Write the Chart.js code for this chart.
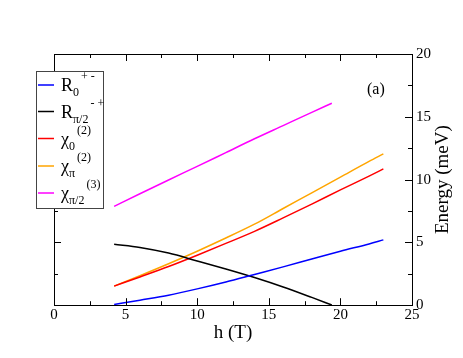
<!DOCTYPE html>
<html>
<head>
<meta charset="utf-8">
<script src="https://cdn.jsdelivr.net/npm/chart.js@4.4.1/dist/chart.umd.min.js"></script>
<style>
  html, body { margin:0; padding:0; background:#fff; }
  #wrap { width:463px; height:358px; }
</style>
</head>
<body>
<div id="wrap"><canvas id="c" width="463" height="358"></canvas></div>
<script>
// field values h (T) and energies (meV)
const hR0 = [4.2, 6, 8, 10, 12, 14, 16, 18, 20, 22, 23];
const eR0 = [0.05, 0.4, 0.8, 1.3, 1.85, 2.45, 3.05, 3.68, 4.3, 4.88, 5.2];
const hRpi2 = [4.2, 6, 8, 10, 12, 14, 16, 18, 19.4];
const eRpi2 = [4.85, 4.6, 4.15, 3.52, 2.88, 2.2, 1.45, 0.62, 0.02];
const hChi0 = [4.2, 6, 8, 10, 12, 14, 16, 18, 20, 22, 23];
const eChi0 = [1.52, 2.25, 3.08, 3.98, 4.92, 5.88, 6.95, 8.05, 9.18, 10.28, 10.85];
const hChiPi = [4.2, 6, 8, 10, 12, 14, 16, 18, 20, 22, 23];
const eChiPi = [1.52, 2.35, 3.3, 4.3, 5.35, 6.45, 7.7, 8.95, 10.2, 11.45, 12.05];
const hChiPi2 = [4.2, 6, 8, 10, 12, 14, 16, 18, 19.4];
const eChiPi2 = [7.87, 8.87, 9.97, 11.05, 12.15, 13.25, 14.3, 15.35, 16.08];

const xTicks = [0, 5, 10, 15, 20, 25];
const yTicks = [0, 5, 10, 15, 20];

const serif = "'Liberation Serif', 'DejaVu Serif', serif";
const pts = (xs, ys) => xs.map((x, i) => ({x: x, y: ys[i]}));

const series = [
  { d: pts(hR0, eR0), c: '#0000ff', main: 'R', sub: '0', sup: '+ -' },
  { d: pts(hRpi2, eRpi2), c: '#000000', main: 'R', sub: 'π/2', sup: '- +' },
  { d: pts(hChi0, eChi0), c: '#ff0000', main: 'χ', sub: '0', sup: '(2)' },
  { d: pts(hChiPi, eChiPi), c: '#ffa500', main: 'χ', sub: 'π', sup: '(2)' },
  { d: pts(hChiPi2, eChiPi2), c: '#ff00ff', main: 'χ', sub: 'π/2', sup: '(3)' },
];

// frame, inward ticks, y title, legend box, panel tag
const deco = {
  id: 'deco',
  afterDraw(chart) {
    const ctx = chart.ctx, a = chart.chartArea;
    const xs = chart.scales.x, ys = chart.scales.y;
    ctx.save();
    ctx.strokeStyle = '#000'; ctx.lineWidth = 1;
    ctx.strokeRect(Math.round(a.left) + 0.5, Math.round(a.top) + 0.5,
                   Math.round(a.right - a.left), Math.round(a.bottom - a.top));
    ctx.beginPath();
    for (let v = 0; v <= 25; v += 2.5) {
      const px = Math.round(xs.getPixelForValue(v)) + 0.5;
      const len = v % 5 === 0 ? 7 : 4;
      ctx.moveTo(px, a.bottom); ctx.lineTo(px, a.bottom - len);
      ctx.moveTo(px, a.top); ctx.lineTo(px, a.top + len);
    }
    for (let v = 0; v <= 20; v += 2.5) {
      const py = Math.round(ys.getPixelForValue(v)) + 0.5;
      const len = v % 5 === 0 ? 7 : 4;
      ctx.moveTo(a.left, py); ctx.lineTo(a.left + len, py);
      ctx.moveTo(a.right, py); ctx.lineTo(a.right - len, py);
    }
    ctx.stroke();

    // y axis title, reading upward
    ctx.fillStyle = '#000';
    ctx.font = '19px ' + serif;
    ctx.textAlign = 'center'; ctx.textBaseline = 'middle';
    ctx.translate(443, (a.top + a.bottom) / 2);
    ctx.rotate(-Math.PI / 2);
    ctx.fillText('Energy (meV)', 0, 0);
    ctx.setTransform(1, 0, 0, 1, 0, 0);

    // panel tag
    ctx.textAlign = 'left'; ctx.textBaseline = 'alphabetic';
    ctx.font = '16px ' + serif;
    ctx.fillText('(a)', 367, 94);

    // legend
    const lx = 36, ly = 71, lw = 67, lh = 137;
    ctx.fillStyle = '#fff';
    ctx.fillRect(lx, ly, lw, lh);
    ctx.strokeStyle = '#444';
    ctx.strokeRect(lx + 0.5, ly + 0.5, lw, lh);
    const rows = [85, 111.5, 138.5, 166, 193];
    series.forEach((s, i) => {
      const y = rows[i];
      ctx.strokeStyle = s.c; ctx.lineWidth = 1.5;
      ctx.beginPath(); ctx.moveTo(38, y); ctx.lineTo(54, y); ctx.stroke();
      ctx.fillStyle = '#000';
      const base = y + 6;
      ctx.font = '18px ' + serif;
      ctx.fillText(s.main, 61, base);
      const mw = ctx.measureText(s.main).width;
      ctx.font = '12px ' + serif;
      ctx.fillText(s.sub, 61 + mw, base + 5);
      const sw = ctx.measureText(s.sub).width;
      ctx.fillText(s.sup, 61 + mw + sw + 2, base - 11);
    });
    ctx.restore();
  }
};

new Chart(document.getElementById('c'), {
  type: 'line',
  data: {
    datasets: series.map(s => ({
      data: s.d, borderColor: s.c, borderWidth: 1.5,
      pointRadius: 0, cubicInterpolationMode: 'monotone', fill: false
    }))
  },
  options: {
    responsive: false, animation: false,
    layout: { padding: { left: 54, top: 54, right: 28, bottom: 14 } },
    plugins: { legend: { display: false }, tooltip: { enabled: false } },
    scales: {
      x: {
        type: 'linear', min: 0, max: 25,
        afterBuildTicks: sc => { sc.ticks = xTicks.map(v => ({value: v})); },
        grid: { display: false, drawTicks: false }, border: { display: false },
        ticks: { color: '#000', font: { family: serif, size: 15 }, padding: 1, maxRotation: 0 },
        title: { display: true, text: 'h (T)', color: '#000', font: { family: serif, size: 19 }, padding: { top: -4, bottom: 0 } }
      },
      y: {
        type: 'linear', position: 'right', min: 0, max: 20,
        afterBuildTicks: sc => { sc.ticks = yTicks.map(v => ({value: v})); },
        grid: { display: false, drawTicks: false }, border: { display: false },
        ticks: { color: '#000', font: { family: serif, size: 15 }, padding: 4 }
      }
    }
  },
  plugins: [deco]
});
</script>
</body>
</html>
